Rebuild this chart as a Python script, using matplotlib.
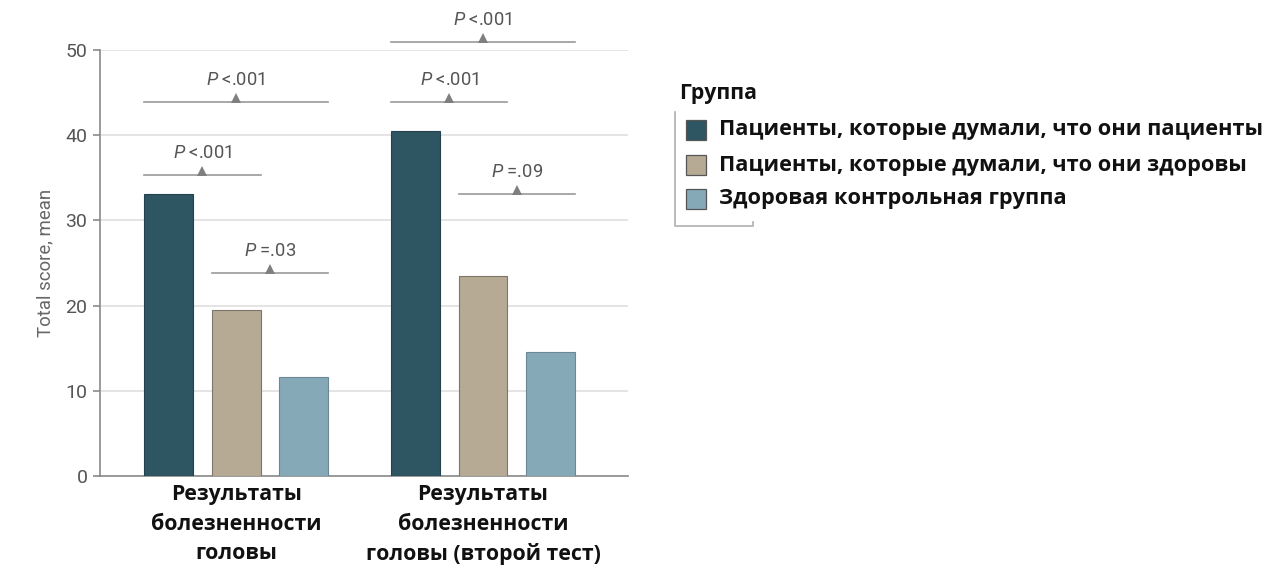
import matplotlib
matplotlib.use("Agg")
import matplotlib.pyplot as plt
import matplotlib.transforms as mtransforms
from matplotlib.patches import Rectangle
from matplotlib.lines import Line2D
import numpy as np

# ---- data ----
categories = ["Результаты\nболезненности\nголовы",
              "Результаты\nболезненности\nголовы (второй тест)"]
groups = ["Пациенты, которые думали, что они пациенты",
          "Пациенты, которые думали, что они здоровы",
          "Здоровая контрольная группа"]
values_patients = [33.1, 40.5]
values_thought_healthy = [19.5, 23.5]
values_controls = [11.6, 14.6]
legend_title = "Группа"
y_label = "Total score, mean"
y_ticks = [0, 10, 20, 30, 40, 50]
# comparisons: (category index, bar i, bar j, level, label)
comp_cat = [0, 0, 0, 1, 1, 1]
comp_i = [0, 1, 0, 0, 1, 0]
comp_j = [1, 2, 2, 1, 2, 2]
comp_level = [35.3, 23.8, 43.9, 43.9, 33.1, 50.9]
comp_p = ["<.001", "=.03", "<.001", "<.001", "=.09", "<.001"]

colors = ["#2e5562", "#b6aa95", "#86a9b8"]
edge_colors = ["#24424d", "#7d7567", "#6a8894"]

plt.rcParams['mathtext.fontset'] = 'custom'
plt.rcParams['mathtext.it'] = 'Roboto:italic'
plt.rcParams['mathtext.rm'] = 'Roboto'
narrow = ['Roboto', 'DejaVu Sans']
bold_font = ['Open Sans', 'DejaVu Sans']

W, H = 1280, 568
fig = plt.figure(figsize=(12.8, 5.68), dpi=100)
ax = fig.add_axes([100 / W, 1 - 476 / H, (628 - 100) / W, (476 - 50) / H])

series = [values_patients, values_thought_healthy, values_controls]
x = np.arange(len(categories))
offset = 0.273
width = 0.198
for k, vals in enumerate(series):
    ax.bar(x + (k - 1) * offset, vals, width=width, color=colors[k],
           edgecolor=edge_colors[k], linewidth=0.8, zorder=3)

ax.set_xlim(-0.551, 1.587)
ax.set_ylim(0, 50)
ax.set_yticks(y_ticks)
ax.set_yticklabels([str(t) for t in y_ticks], fontfamily=narrow,
                   fontsize=14, color="#555555")
ax.yaxis.grid(True, color="#e2e2e2", linewidth=1.3, zorder=0)
ax.set_axisbelow(True)
for s in ["top", "right"]:
    ax.spines[s].set_visible(False)
ax.spines["left"].set_color("#8a8a8a")
ax.spines["bottom"].set_color("#8a8a8a")
ax.spines["left"].set_linewidth(1.2)
ax.spines["bottom"].set_linewidth(1.2)
ax.tick_params(axis="y", length=5, color="#8a8a8a", width=1.2, pad=4)
ax.tick_params(axis="x", length=0, pad=6)
ax.set_xticks(x)
ax.set_xticklabels(categories, fontfamily=bold_font, fontweight="bold",
                   fontsize=15.3, color="#111111", linespacing=1.52, va="top")
ax.set_ylabel(y_label, fontfamily=narrow, fontsize=13.4, color="#666666",
              labelpad=8)

# comparison brackets
tri_trans = ax.transData + mtransforms.ScaledTranslation(0, 3.2 / 72, fig.dpi_scale_trans)
for c, i, j, lev, p in zip(comp_cat, comp_i, comp_j, comp_level, comp_p):
    x0 = x[c] + (i - 1) * offset - width / 2
    x1 = x[c] + (j - 1) * offset + width / 2
    xc = (x0 + x1) / 2
    ax.plot([x0, x1], [lev, lev], color="#9a9a9a", linewidth=1.2,
            clip_on=False, zorder=4)
    ax.plot([xc], [lev], marker="^", markersize=6.5, color="#7f7f7f",
            markeredgewidth=0, transform=tri_trans, clip_on=False, zorder=4)
    ax.annotate(r"$\it{P}$ " + p, xy=(xc, lev), xytext=(0, 9.5),
                textcoords="offset points", ha="center", va="bottom",
                fontsize=13.2, color="#555555", fontfamily=narrow,
                annotation_clip=False)

# legend (manual)
def fx(px):
    return px / W

def fy(py):
    return 1 - py / H

fig.text(fx(679), fy(94), legend_title, fontfamily=bold_font, fontweight="bold",
         fontsize=15.3, color="#111111", ha="left", va="center")
entry_y = [130, 165, 199]
for k, lab in enumerate(groups):
    cy = entry_y[k]
    fig.patches.append(Rectangle((fx(686), fy(cy + 10)), 20 / W, 20 / H,
                                 transform=fig.transFigure, facecolor=colors[k],
                                 edgecolor="#555555", linewidth=0.9))
    fig.text(fx(719), fy(cy), lab, fontfamily=bold_font, fontweight="bold",
             fontsize=15.7, color="#111111", ha="left", va="center")
fig.lines.append(Line2D([fx(675), fx(675), fx(753), fx(753)],
                        [fy(112), fy(226), fy(226), fy(222)],
                        transform=fig.transFigure, color="#b0b0b0", linewidth=1.2))

fig.savefig("out.png", dpi=100)
